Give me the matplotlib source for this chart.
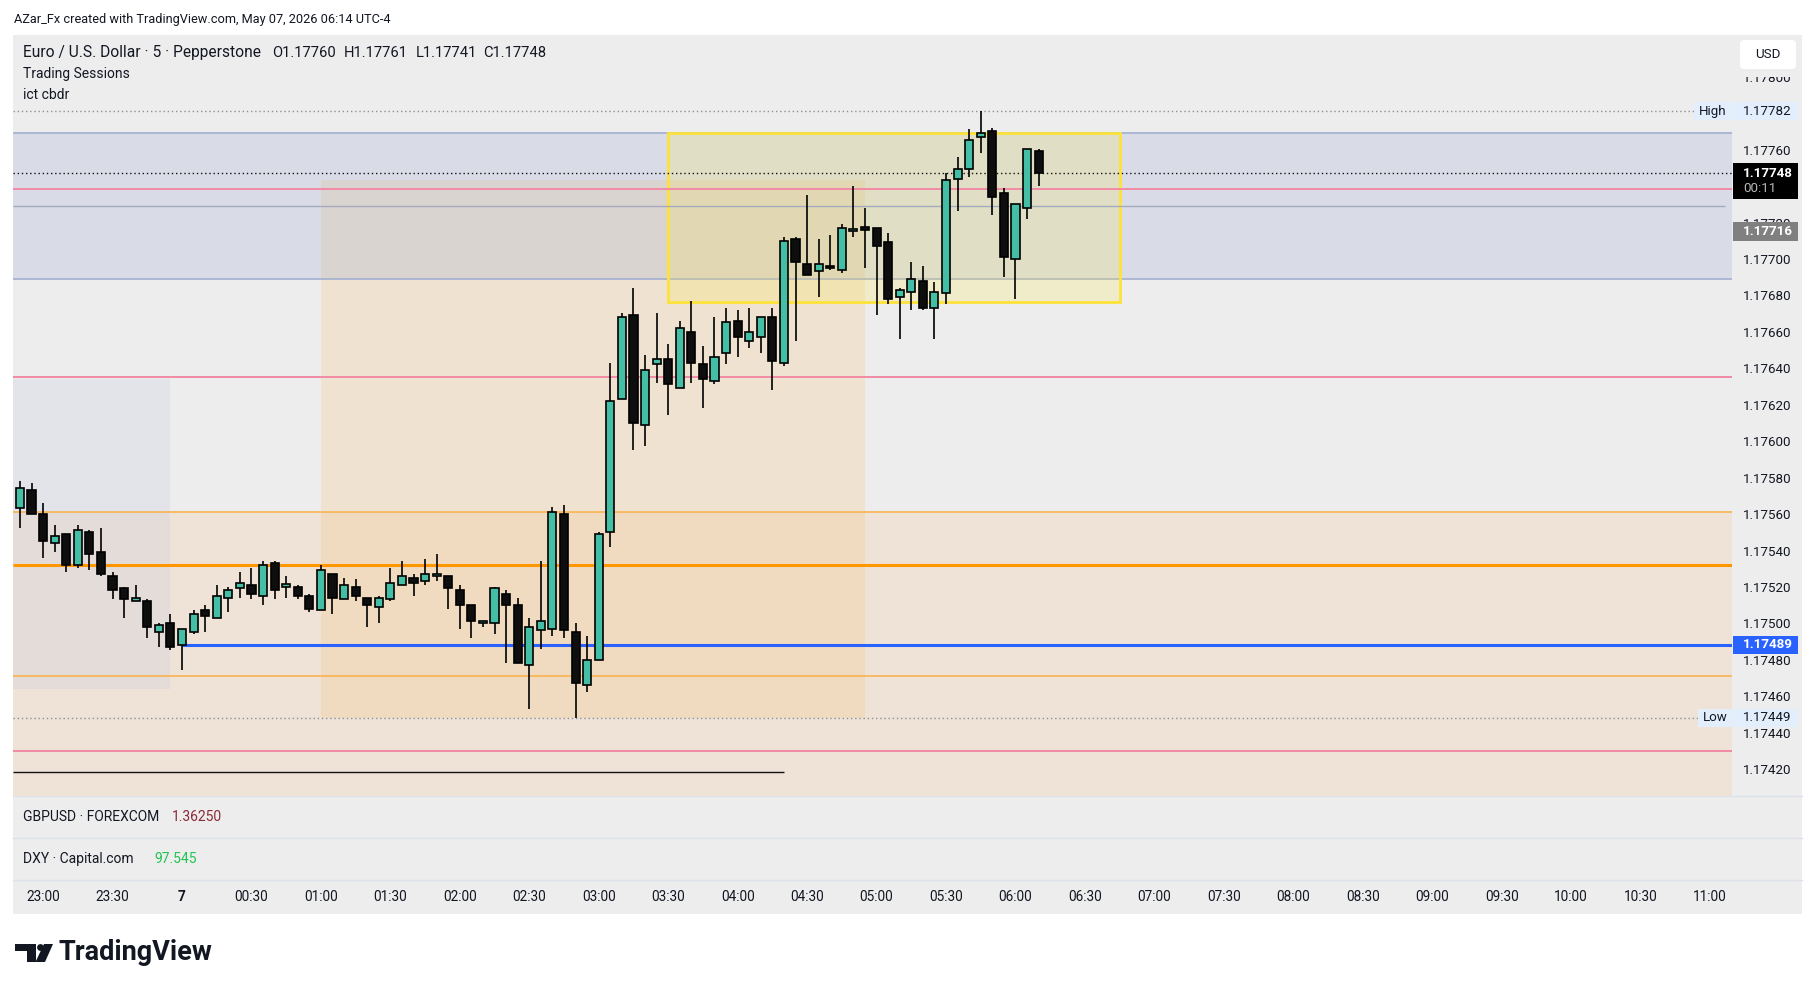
import numpy as np
import matplotlib.pyplot as plt
import matplotlib.transforms as mtransforms
from matplotlib.patches import Rectangle, FancyBboxPatch, Polygon, Circle

plt.rcParams['font.family'] = ['Roboto', 'DejaVu Sans']

W, H = 1815, 991

# EURUSD 5m bars, 22:50 -> 06:10
opens = [1.17564, 1.17574, 1.17561, 1.17545, 1.17550, 1.17533, 1.17551, 1.17540, 1.17527, 1.17520,
         1.17513, 1.17513, 1.17496, 1.17501, 1.17489, 1.17496, 1.17508, 1.17504, 1.17515, 1.17520,
         1.17522, 1.17516, 1.17534, 1.17521, 1.17521, 1.17516, 1.17508, 1.17528, 1.17514, 1.17521,
         1.17515, 1.17510, 1.17514, 1.17522, 1.17526, 1.17524, 1.17527, 1.17527, 1.17519, 1.17511,
         1.17501, 1.17501, 1.17517, 1.17511, 1.17478, 1.17497, 1.17498, 1.17561, 1.17496, 1.17467,
         1.17481, 1.17551, 1.17624, 1.17670, 1.17610, 1.17643, 1.17646, 1.17630, 1.17661, 1.17643,
         1.17634, 1.17649, 1.17667, 1.17656, 1.17658, 1.17669, 1.17644, 1.17712, 1.17698, 1.17694,
         1.17697, 1.17695, 1.17716, 1.17718, 1.17718, 1.17710, 1.17680, 1.17683, 1.17689, 1.17674,
         1.17682, 1.17745, 1.17750, 1.17768, 1.17771, 1.17737, 1.17701, 1.17729, 1.17760]
highs = [1.17579, 1.17578, 1.17567, 1.17555, 1.17550, 1.17555, 1.17552, 1.17553, 1.17529, 1.17521,
         1.17522, 1.17514, 1.17501, 1.17506, 1.17498, 1.17508, 1.17511, 1.17522, 1.17521, 1.17529,
         1.17531, 1.17535, 1.17535, 1.17527, 1.17522, 1.17517, 1.17533, 1.17528, 1.17526, 1.17525,
         1.17515, 1.17516, 1.17531, 1.17535, 1.17528, 1.17536, 1.17539, 1.17527, 1.17522, 1.17511,
         1.17502, 1.17521, 1.17519, 1.17515, 1.17504, 1.17535, 1.17565, 1.17566, 1.17501, 1.17494,
         1.17551, 1.17644, 1.17671, 1.17685, 1.17648, 1.17671, 1.17654, 1.17667, 1.17678, 1.17653,
         1.17669, 1.17674, 1.17673, 1.17674, 1.17669, 1.17674, 1.17713, 1.17713, 1.17736, 1.17712,
         1.17714, 1.17720, 1.17741, 1.17729, 1.17718, 1.17715, 1.17685, 1.17699, 1.17697, 1.17688,
         1.17748, 1.17757, 1.17772, 1.17782, 1.17773, 1.17740, 1.17731, 1.17761, 1.17761]
lows = [1.17553, 1.17561, 1.17537, 1.17540, 1.17529, 1.17531, 1.17530, 1.17527, 1.17514, 1.17504,
        1.17513, 1.17493, 1.17488, 1.17486, 1.17475, 1.17495, 1.17496, 1.17504, 1.17507, 1.17515,
        1.17514, 1.17511, 1.17514, 1.17515, 1.17514, 1.17507, 1.17508, 1.17506, 1.17514, 1.17513,
        1.17499, 1.17501, 1.17513, 1.17522, 1.17516, 1.17522, 1.17524, 1.17509, 1.17498, 1.17493,
        1.17499, 1.17495, 1.17479, 1.17479, 1.17454, 1.17487, 1.17494, 1.17493, 1.17449, 1.17463,
        1.17481, 1.17543, 1.17624, 1.17596, 1.17598, 1.17633, 1.17615, 1.17630, 1.17633, 1.17619,
        1.17632, 1.17643, 1.17647, 1.17652, 1.17649, 1.17629, 1.17642, 1.17656, 1.17692, 1.17680,
        1.17695, 1.17693, 1.17713, 1.17696, 1.17670, 1.17676, 1.17657, 1.17673, 1.17673, 1.17657,
        1.17676, 1.17727, 1.17746, 1.17759, 1.17725, 1.17691, 1.17679, 1.17723, 1.17741]
closes = [1.17575, 1.17561, 1.17546, 1.17549, 1.17533, 1.17552, 1.17539, 1.17528, 1.17519, 1.17514,
          1.17515, 1.17499, 1.17500, 1.17488, 1.17498, 1.17506, 1.17505, 1.17516, 1.17519, 1.17523,
          1.17517, 1.17533, 1.17519, 1.17522, 1.17516, 1.17509, 1.17530, 1.17515, 1.17522, 1.17516,
          1.17511, 1.17515, 1.17523, 1.17527, 1.17523, 1.17528, 1.17528, 1.17520, 1.17511, 1.17502,
          1.17502, 1.17520, 1.17511, 1.17479, 1.17499, 1.17502, 1.17562, 1.17497, 1.17468, 1.17481,
          1.17550, 1.17623, 1.17669, 1.17611, 1.17640, 1.17646, 1.17632, 1.17663, 1.17644, 1.17635,
          1.17647, 1.17666, 1.17658, 1.17661, 1.17669, 1.17645, 1.17711, 1.17699, 1.17692, 1.17698,
          1.17696, 1.17718, 1.17717, 1.17717, 1.17708, 1.17679, 1.17684, 1.17690, 1.17674, 1.17683,
          1.17744, 1.17750, 1.17766, 1.17770, 1.17735, 1.17702, 1.17731, 1.17761, 1.17748]

# scale labels that are not hidden behind a price tag
price_ticks = [1.17420, 1.17440, 1.17460, 1.17480, 1.17500, 1.17520, 1.17540, 1.17560, 1.17580,
               1.17600, 1.17620, 1.17640, 1.17660, 1.17680, 1.17700, 1.17720, 1.17760, 1.17800]
time_labels = ['23:00', '23:30', '7', '00:30', '01:00', '01:30', '02:00', '02:30', '03:00',
               '03:30', '04:00', '04:30', '05:00', '05:30', '06:00', '06:30', '07:00', '07:30',
               '08:00', '08:30', '09:00', '09:30', '10:00', '10:30', '11:00']
legend_parts = ['Euro / U.S. Dollar \u00b7 5 \u00b7 Pepperstone', 'O1.17760', 'H1.17761',
                'L1.17741', 'C1.17748']

# levels drawn by the indicators
day_high, day_low = 1.17782, 1.17449
last_price, ma_price = 1.17748, 1.17716
cbdr_band = (1.17690, 1.17770)
pink_levels = [1.17739, 1.17636, 1.17431]
grey_level = 1.17730
orange_thin = [1.17562, 1.17472]
orange_mid = 1.17533
blue_level = 1.17489
black_level = 1.17419
asia_box = (1.17465, 1.17635)
london_box = (1.17449, 1.17744)
ny_box = (1.17677, 1.17770)


def frac(x0, y0, x1, y1):
    return [x0 / W, 1 - y1 / H, (x1 - x0) / W, (y1 - y0) / H]


fig = plt.figure(figsize=(W / 100, H / 100), dpi=100, facecolor='white')

bg = fig.add_axes([0, 0, 1, 1], zorder=0)
bg.set_xlim(0, W)
bg.set_ylim(H, 0)
bg.axis('off')
bg.add_patch(Rectangle((13, 35), 1789, 879, fc='#ededed', ec='none'))
for yy in (796, 838, 880):
    bg.plot([13, 1802], [yy, yy], color='#dde1ea', lw=1)

ax = fig.add_axes(frac(13, 35, 1732, 796), zorder=1)
ax.set_facecolor('#ededed')
ax.set_xlim(-0.6, 147.9)
ax.set_ylim(1.174061, 1.178238)
for s in ax.spines.values():
    s.set_visible(False)
ax.set_xticks([])
ax.set_yticks([])

x0, x1 = ax.get_xlim()
y0, y1 = ax.get_ylim()

# zones
ax.add_patch(Rectangle((x0, y0), x1 - x0, orange_thin[0] - y0, fc='#efe3d7', ec='none', zorder=1))
ax.add_patch(Rectangle((x0, asia_box[0]), 13 - x0, asia_box[1] - asia_box[0],
                       fc='#b9c3e0', alpha=0.2, ec='none', zorder=2))
ax.add_patch(Rectangle((26, london_box[0]), 47, london_box[1] - london_box[0],
                       fc='#f5c98f', alpha=0.3, ec='none', zorder=2))
ax.add_patch(Rectangle((x0, cbdr_band[0]), x1 - x0, cbdr_band[1] - cbdr_band[0],
                       fc='#9fadd6', alpha=0.25, ec='none', zorder=3))
ax.hlines(cbdr_band, x0, x1, color='#a9b3d0', lw=1.3, zorder=3)
ax.add_patch(Rectangle((56, ny_box[0]), 39, ny_box[1] - ny_box[0],
                       fc='#ffeb3b', alpha=0.2, ec='none', zorder=3))
ax.add_patch(Rectangle((56, ny_box[0]), 39, ny_box[1] - ny_box[0],
                       fc='none', ec='#fde23a', lw=2, zorder=4))

# levels
ax.hlines(pink_levels, x0, x1, color='#f28aa6', lw=1.4, zorder=4)
ax.hlines(grey_level, x0, 147.3, color='#a4abbf', lw=1, zorder=4)
ax.hlines(orange_thin, x0, x1, color='#f8b65a', lw=1.3, zorder=4)
ax.hlines(orange_mid, x0, x1, color='#ff9800', lw=2.2, zorder=4)
ax.hlines(blue_level, 14, x1, color='#2962ff', lw=2.2, zorder=4)
ax.hlines(black_level, x0, 66, color='#111111', lw=1, zorder=4)
ax.hlines(day_high, x0, 144.6, color='#8a8f9a', lw=1, linestyles=(0, (1, 2)), zorder=4)
ax.hlines(day_low, x0, 145.0, color='#8a8f9a', lw=1, linestyles=(0, (1, 2)), zorder=4)
ax.hlines(last_price, x0, x1, color='#111111', lw=1, linestyles=(0, (1, 2)), zorder=4)

# candles
for i, (o, h, l, c) in enumerate(zip(opens, highs, lows, closes)):
    fc = '#44bfa5' if c > o else '#0e0e0e'
    ax.vlines(i, l, h, color='#000000', lw=1.2, zorder=6)
    ax.add_patch(Rectangle((i - 0.35, min(o, c)), 0.7, max(abs(c - o), 0.000012),
                           fc=fc, ec='#000000', lw=1.2, zorder=7))

# price scale
trans = mtransforms.blended_transform_factory(ax.transAxes, ax.transData)
tx = (1743 - 13) / 1719
bx0, bw = (1733 - 13) / 1719, 65 / 1719
for p in price_ticks:
    ax.text(tx, p, f'{p:.5f}', transform=trans, ha='left', va='center', fontsize=9.6,
            color='#131722', clip_on=False, zorder=10)

half = 0.0000505


def price_label(p, txt, fc, tc, bold=False, lo=None, hi=None):
    lo = p - half if lo is None else lo
    hi = p + half if hi is None else hi
    ax.add_patch(Rectangle((bx0, lo), bw, hi - lo, transform=trans, fc=fc, ec='none',
                           clip_on=False, zorder=20))
    ax.text(tx, p, txt, transform=trans, ha='left', va='center', fontsize=9.6, color=tc,
            fontweight='bold' if bold else 'normal', clip_on=False, zorder=21)


price_label(day_high, f'{day_high:.5f}', '#e2eefc', '#131722')
price_label(last_price, f'{last_price:.5f}', '#000000', 'white', bold=True,
            lo=1.17734, hi=1.177533)
ax.text(tx, 1.177394, '00:11', transform=trans, ha='left', va='center', fontsize=9.6,
        color='#b8b8b8', clip_on=False, zorder=21)
price_label(ma_price, f'{ma_price:.5f}', '#808080', 'white', bold=True)
price_label(blue_level, f'{blue_level:.5f}', '#2962ff', 'white', bold=True)
price_label(day_low, f'{day_low:.5f}', '#e2eefc', '#131722')

for p, name, xs in ((day_high, 'High', 144.6), (day_low, 'Low', 145.0)):
    ax.add_patch(Rectangle((xs, p - half), 147.9 - xs, 2 * half, fc='#e2eefc', ec='none',
                           zorder=20))
    ax.text((xs + 147.9) / 2, p, name, ha='center', va='center', fontsize=9.6,
            color='#131722', zorder=21)

# time scale
tax = fig.add_axes(frac(13, 880, 1732, 914), zorder=1)
tax.set_xlim(x0, x1)
tax.set_ylim(0, 1)
tax.axis('off')
for k, lab in enumerate(time_labels):
    tax.text(2 + 6 * k, 0.5, lab, ha='center', va='center', fontsize=9.8, color='#131722',
             fontweight='bold' if lab == '7' else 'normal')

# overlay texts
ov = fig.add_axes([0, 0, 1, 1], zorder=5)
ov.set_xlim(0, W)
ov.set_ylim(H, 0)
ov.axis('off')
ov.patch.set_alpha(0)

# top of the price scale is hidden under the currency button strip
ov.add_patch(Rectangle((1733, 35), 69, 42, fc='#ededed', ec='none'))
ov.add_patch(FancyBboxPatch((1740, 40), 56, 29, boxstyle='round,pad=0,rounding_size=4',
                            fc='white', ec='none'))
ov.text(1768, 55, 'USD', ha='center', va='center', fontsize=9.6, color='#131722')

ov.text(14, 19, 'AZar_Fx created with TradingView.com, May 07, 2026 06:14 UTC-4',
        fontsize=9.2, va='center', color='#131722')
ov.text(23, 53, legend_parts[0], fontsize=11.2, va='center', color='#131722')
for txt, xx in zip(legend_parts[1:], (272, 344, 416, 483)):
    ov.text(xx, 53, txt, fontsize=10.6, va='center', color='#131722')
ov.text(23, 74, 'Trading Sessions', fontsize=10, va='center', color='#131722')
ov.text(23, 95, 'ict cbdr', fontsize=10, va='center', color='#131722')

ov.text(23, 817, 'GBPUSD \u00b7 FOREXCOM', fontsize=10, va='center', color='#131722')
ov.text(172, 817, '1.36250', fontsize=10, va='center', color='#8c2a37')
ov.text(23, 859, 'DXY \u00b7 Capital.com', fontsize=10, va='center', color='#131722')
ov.text(154, 859, '97.545', fontsize=10, va='center', color='#1fc552')

# TradingView logo
ov.add_patch(Polygon([(15, 944), (36, 944), (36, 962), (27, 962), (27, 951), (15, 951)],
                     closed=True, fc='#131722', ec='none'))
ov.add_patch(Circle((40.5, 947.5), 3.4, fc='#131722', ec='none'))
ov.add_patch(Polygon([(44, 944), (53, 944), (45, 962), (35.5, 962)], closed=True,
                     fc='#131722', ec='none'))
ov.text(59, 953, 'TradingView', fontsize=19.5, fontweight='bold', va='center', color='#131722')

fig.savefig('out.png', dpi=100, facecolor='white')
